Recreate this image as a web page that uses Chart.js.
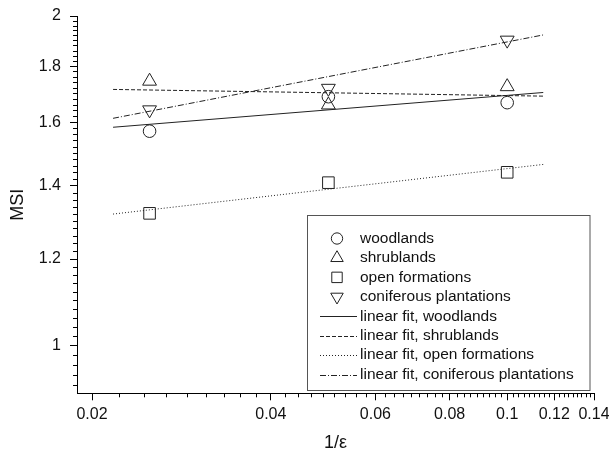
<!DOCTYPE html>
<html>
<head>
<meta charset="utf-8">
<script src="https://cdn.jsdelivr.net/npm/chart.js@4.4.1/dist/chart.umd.min.js"></script>
<style>
  html, body { margin: 0; padding: 0; background: #fff; }
  #wrap { width: 609px; height: 452px; position: relative; }
</style>
</head>
<body>
<div id="wrap"><canvas id="msiChart"></canvas></div>
<script>
// 1/epsilon values of the measurements
const xValues = [0.025, 0.05, 0.1];

// MSI per class
const woodlands = [1.570, 1.688, 1.667];
const shrublands = [1.744, 1.659, 1.724];
const openFormations = [1.321, 1.409, 1.440];
const coniferous = [1.642, 1.718, 1.901];

// fitted lines, start and end of each
const fitX = [0.0217, 0.115];
const woodlandsFit = [1.583, 1.703];
const shrublandsFit = [1.714, 1.690];
const openFit = [1.319, 1.464];
const coniferousFit = [1.613, 1.922];

// axes
const xTicks = [0.02, 0.04, 0.06, 0.08, 0.1, 0.12, 0.14];
const xTickLabels = ['0.02', '0.04', '0.06', '0.08', '0.1', '0.12', '0.14'];
const yTicks = [1, 1.2, 1.4, 1.6, 1.8, 2];
const yTickLabels = ['1', '1.2', '1.4', '1.6', '1.8', '2'];
const xRange = [0.01887, 0.14];
const yRange = [0.905, 2];

const pts = (xs, ys) => xs.map((x, i) => ({ x: x, y: ys[i] }));

// minor ticks: 8 between x majors, 9 between y majors
const xMinor = [];
for (let i = 0; i < xTicks.length - 1; i++) {
  for (let k = 1; k <= 8; k++) xMinor.push(xTicks[i] + k * (xTicks[i + 1] - xTicks[i]) / 9);
}
const yMinor = [];
for (let v = 0.98; v > yRange[0]; v -= 0.02) yMinor.push(v);
for (let i = 0; i < yTicks.length - 1; i++) {
  for (let k = 1; k <= 9; k++) yMinor.push(yTicks[i] + k * (yTicks[i + 1] - yTicks[i]) / 10);
}

Chart.defaults.font.family = '"Liberation Sans", Arial, sans-serif';
Chart.defaults.color = '#111';

const markerColor = '#222';
const lineColor = '#222';

const minorTicks = {
  id: 'minorTicks',
  afterDraw(chart) {
    const ctx = chart.ctx;
    const xs = chart.scales.x, ys = chart.scales.y;
    ctx.save();
    ctx.strokeStyle = '#000';
    ctx.lineWidth = 1;
    ctx.beginPath();
    xMinor.forEach(v => {
      if (v < xs.min || v > xs.max) return;
      const p = Math.round(xs.getPixelForValue(v)) + 0.5;
      ctx.moveTo(p, xs.top);
      ctx.lineTo(p, xs.top + 4);
    });
    yMinor.forEach(v => {
      if (v < ys.min || v > ys.max) return;
      const p = Math.round(ys.getPixelForValue(v)) + 0.5;
      ctx.moveTo(ys.right, p);
      ctx.lineTo(ys.right - 4, p);
    });
    ctx.stroke();
    ctx.restore();
  }
};

const boxLegend = {
  id: 'boxLegend',
  afterDraw(chart) {
    const ctx = chart.ctx;
    const L = 307.5, T = 215.5, W = 282.5, H = 175;
    ctx.save();
    ctx.fillStyle = '#fff';
    ctx.fillRect(L, T, W, H);
    ctx.strokeStyle = '#555';
    ctx.lineWidth = 1;
    ctx.strokeRect(L, T, W, H);
    ctx.font = '15.5px "Liberation Sans", Arial, sans-serif';
    ctx.textBaseline = 'middle';
    chart.data.datasets.forEach((ds, i) => {
      const y = 238.5 + i * 19.43;
      if (ds.showLine) {
        ctx.strokeStyle = ds.borderColor;
        ctx.lineWidth = ds.borderWidth;
        ctx.setLineDash(ds.borderDash || []);
        ctx.beginPath();
        ctx.moveTo(320, Math.round(y) + 0.5);
        ctx.lineTo(357, Math.round(y) + 0.5);
        ctx.stroke();
        ctx.setLineDash([]);
      } else {
        ctx.strokeStyle = ds.borderColor;
        ctx.fillStyle = 'rgba(0,0,0,0)';
        ctx.lineWidth = ds.borderWidth;
        Chart.helpers.drawPoint(ctx, {
          pointStyle: ds.pointStyle,
          rotation: ds.pointRotation || 0,
          radius: ds.pointRadius * 0.9,
          borderWidth: ds.borderWidth
        }, 337, y);
      }
      ctx.fillStyle = '#111';
      ctx.fillText(ds.label, 360, y);
    });
    ctx.restore();
  }
};

const scatterSet = (label, data, style, radius, rotation) => ({
  label: label,
  data: pts(xValues, data),
  showLine: false,
  pointStyle: style,
  pointRotation: rotation || 0,
  pointRadius: radius,
  pointBorderColor: markerColor,
  borderColor: markerColor,
  pointBackgroundColor: 'rgba(0,0,0,0)',
  backgroundColor: 'rgba(0,0,0,0)',
  pointBorderWidth: 1,
  borderWidth: 1
});

const fitSet = (label, data, dash) => ({
  label: label,
  data: pts(fitX, data),
  showLine: true,
  pointRadius: 0,
  borderColor: lineColor,
  borderWidth: 1,
  borderDash: dash,
  fill: false
});

new Chart(document.getElementById('msiChart'), {
  type: 'scatter',
  data: {
    datasets: [
      scatterSet('woodlands', woodlands, 'circle', 6.3),
      scatterSet('shrublands', shrublands, 'triangle', 8),
      scatterSet('open formations', openFormations, 'rect', 8.2),
      scatterSet('coniferous plantations', coniferous, 'triangle', 8, 180),
      fitSet('linear fit, woodlands', woodlandsFit, []),
      fitSet('linear fit, shrublands', shrublandsFit, [4, 2]),
      fitSet('linear fit, open formations', openFit, [1, 2]),
      fitSet('linear fit, coniferous plantations', coniferousFit, [6, 2, 1, 2])
    ]
  },
  options: {
    responsive: true,
    maintainAspectRatio: false,
    animation: false,
    layout: { padding: { left: 7, right: 15, top: 16, bottom: 0 } },
    plugins: { legend: { display: false }, tooltip: { enabled: false } },
    scales: {
      x: {
        type: 'logarithmic',
        position: 'bottom',
        min: xRange[0],
        max: xRange[1],
        bounds: 'data',
        afterBuildTicks: s => { s.ticks = xTicks.map(v => ({ value: v })); },
        afterFit: s => { s.height = 58.7; s.paddingLeft = 0; s.paddingRight = 0; },
        ticks: {
          autoSkip: false,
          maxRotation: 0,
          padding: 5,
          color: '#111',
          font: { size: 16 },
          callback: (v, i) => xTickLabels[i]
        },
        grid: { drawOnChartArea: false, drawTicks: true, tickLength: 7, color: '#000', tickColor: '#000' },
        border: { display: true, color: '#000', width: 1 },
        title: { display: true, text: '1/ε', color: '#111', font: { size: 18, lineHeight: 1 }, padding: 0 }
      },
      y: {
        type: 'logarithmic',
        position: 'left',
        min: yRange[0],
        max: yRange[1],
        bounds: 'data',
        afterBuildTicks: s => { s.ticks = yTicks.map(v => ({ value: v })); },
        afterFit: s => { s.width = 70; s.paddingTop = 0; s.paddingBottom = 0; },
        ticks: {
          autoSkip: false,
          padding: 9,
          color: '#111',
          font: { size: 16 },
          callback: (v, i) => yTickLabels[i]
        },
        grid: { drawOnChartArea: false, drawTicks: true, tickLength: 7, color: '#000', tickColor: '#000' },
        border: { display: true, color: '#000', width: 1 },
        title: { display: true, text: 'MSI', color: '#111', font: { size: 18, lineHeight: 1.2 }, padding: 0 }
      }
    }
  },
  plugins: [minorTicks, boxLegend]
});
</script>
</body>
</html>
